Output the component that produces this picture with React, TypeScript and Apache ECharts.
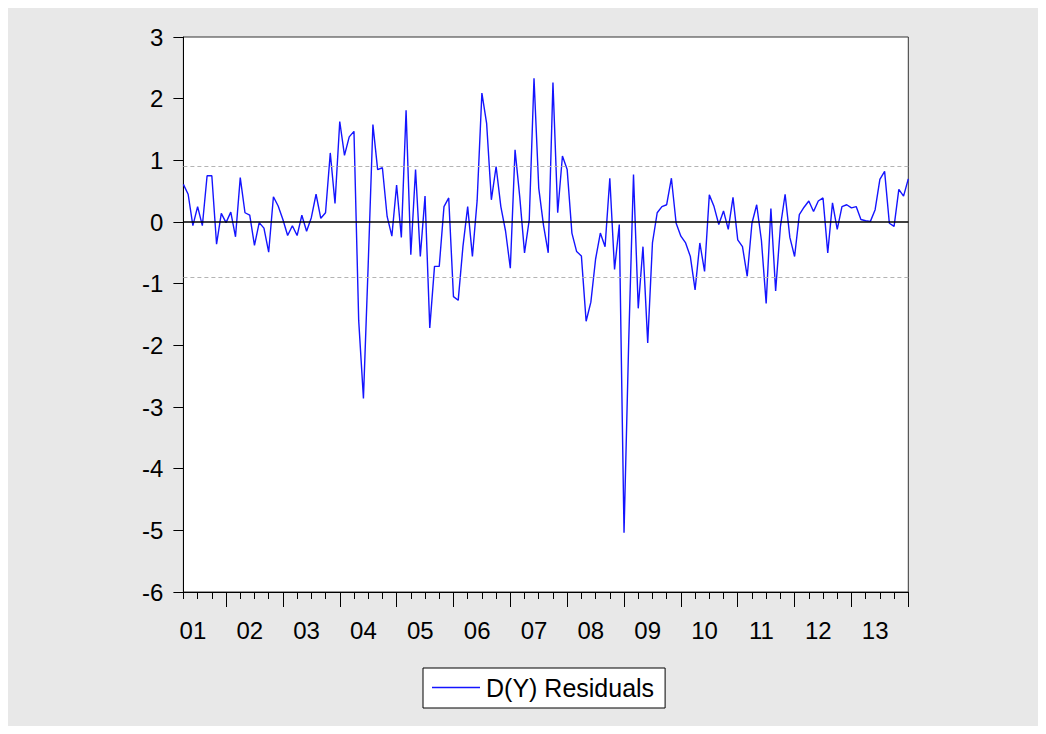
import React, { useEffect, useRef } from "react";
import * as echarts from "echarts";

// Monthly observations, first observation 2001M04
const START_YEAR = 2001;
const START_MONTH = 4;

// D(Y) residuals (2001M04 ... 2014M01)
const residuals2001 = [0.61, 0.45, -0.06, 0.25, -0.06, 0.75, 0.75, -0.36, 0.14];
const residuals2002 = [-0.01, 0.16, -0.24, 0.72, 0.15, 0.11, -0.38, -0.01, -0.1, -0.49, 0.41, 0.26];
const residuals2003 = [0.04, -0.22, -0.06, -0.22, 0.11, -0.15, 0.07, 0.45, 0.06, 0.15, 1.12, 0.3];
const residuals2004 = [1.63, 1.08, 1.38, 1.47, -1.6, -2.86, -0.7, 1.58, 0.85, 0.88, 0.09, -0.23];
const residuals2005 = [0.6, -0.25, 1.81, -0.53, 0.85, -0.56, 0.42, -1.72, -0.72, -0.72, 0.25, 0.39];
const residuals2006 = [-1.21, -1.27, -0.4, 0.25, -0.56, 0.35, 2.09, 1.6, 0.36, 0.9, 0.25, -0.15];
const residuals2007 = [-0.75, 1.17, 0.4, -0.5, 0.04, 2.33, 0.55, -0.05, -0.5, 2.26, 0.15, 1.07];
const residuals2008 = [0.85, -0.18, -0.48, -0.55, -1.61, -1.3, -0.6, -0.18, -0.4, 0.71, -0.77, -0.04];
const residuals2009 = [-5.04, -1.9, 0.77, -1.4, -0.4, -1.96, -0.34, 0.15, 0.25, 0.28, 0.71, -0.02];
const residuals2010 = [-0.23, -0.34, -0.56, -1.1, -0.34, -0.8, 0.44, 0.25, -0.04, 0.18, -0.12, 0.4];
const residuals2011 = [-0.29, -0.4, -0.88, -0.02, 0.28, -0.3, -1.32, 0.22, -1.12, -0.08, 0.45, -0.25];
const residuals2012 = [-0.56, 0.12, 0.24, 0.34, 0.17, 0.34, 0.39, -0.5, 0.31, -0.12, 0.25, 0.28];
const residuals2013 = [0.23, 0.25, 0.04, 0.02, 0.01, 0.2, 0.69, 0.82, -0.02, -0.07, 0.53, 0.42];
const residuals2014 = [0.7];

const residuals = [
  ...residuals2001, ...residuals2002, ...residuals2003, ...residuals2004,
  ...residuals2005, ...residuals2006, ...residuals2007, ...residuals2008,
  ...residuals2009, ...residuals2010, ...residuals2011, ...residuals2012,
  ...residuals2013, ...residuals2014,
];

// ±1 standard error band and y-axis range
const seBand = 0.897;
const yMin = -6;
const yMax = 3;
const yStep = 1;

const seriesName = "D(Y) Residuals";
const FONT = 'Arial, "Liberation Sans", sans-serif';
const LINE_COLOR = "#1414ff";

function monthLabels(n: number): string[] {
  const out: string[] = [];
  let y = START_YEAR;
  let m = START_MONTH;
  for (let i = 0; i < n; i++) {
    out.push(`${y}M${m < 10 ? "0" + m : m}`);
    m++;
    if (m > 12) {
      m = 1;
      y++;
    }
  }
  return out;
}

const monthOf = (v: string) => parseInt(v.slice(5), 10);

export default function App() {
  const ref = useRef<HTMLDivElement>(null);

  useEffect(() => {
    if (!ref.current) return;
    const chart = echarts.init(ref.current, null, { renderer: "svg" });
    const cats = monthLabels(residuals.length);

    chart.setOption({
      animation: false,
      backgroundColor: "#e8e8e8",
      grid: {
        left: 175.4,
        right: 129.7,
        top: 29,
        bottom: 134,
        show: true,
        backgroundColor: "#ffffff",
        borderColor: "#333333",
        borderWidth: 1,
      },
      legend: {
        show: true,
        left: 415,
        top: 660,
        padding: [7, 11, 8, 9],
        itemWidth: 48,
        itemHeight: 1.5,
        itemGap: 5,
        icon: "rect",
        borderColor: "#000000",
        borderWidth: 1,
        borderRadius: 0,
        backgroundColor: "#ffffff",
        textStyle: { fontSize: 25, color: "#000000", fontFamily: FONT, padding: [0, 0, 0, 1] },
        data: [{ name: seriesName, icon: "rect", itemStyle: { color: LINE_COLOR } }],
      },
      xAxis: [
        {
          type: "category",
          data: cats,
          boundaryGap: false,
          position: "bottom",
          axisLine: { show: true, onZero: false, lineStyle: { color: "#000000", width: 1 } },
          axisTick: {
            show: true,
            length: 15,
            interval: (_i: number, v: string) => monthOf(v) === 1,
            lineStyle: { color: "#000000" },
          },
          axisLabel: {
            show: true,
            interval: (_i: number, v: string) => monthOf(v) === 6,
            formatter: (v: string) => v.slice(2, 4),
            fontSize: 24,
            color: "#000000",
            fontFamily: FONT,
            margin: 26,
          },
          splitLine: { show: false },
        },
        {
          type: "category",
          data: cats,
          boundaryGap: false,
          position: "bottom",
          axisLine: { show: false, onZero: false },
          axisTick: {
            show: true,
            length: 7,
            interval: (_i: number, v: string) => [1, 4, 7, 10].includes(monthOf(v)),
            lineStyle: { color: "#000000" },
          },
          axisLabel: { show: false },
          splitLine: { show: false },
        },
      ],
      yAxis: {
        type: "value",
        min: yMin,
        max: yMax,
        interval: yStep,
        axisLine: { show: true, lineStyle: { color: "#000000", width: 1 } },
        axisTick: { show: true, length: 10, lineStyle: { color: "#000000" } },
        axisLabel: { fontSize: 24, color: "#000000", fontFamily: FONT, margin: 20 },
        splitLine: { show: false },
      },
      series: [
        {
          type: "line",
          name: "bands",
          data: [],
          z: 1,
          silent: true,
          markLine: {
            silent: true,
            symbol: "none",
            label: { show: false },
            data: [
              { yAxis: seBand, lineStyle: { color: "#b4b4b4", type: [4, 3], width: 1 } },
              { yAxis: -seBand, lineStyle: { color: "#b4b4b4", type: [4, 3], width: 1 } },
              { yAxis: 0, lineStyle: { color: "#000000", type: "solid", width: 1.5 } },
            ],
          },
        },
        {
          type: "line",
          name: seriesName,
          data: residuals,
          z: 3,
          symbol: "none",
          showSymbol: false,
          lineStyle: { color: LINE_COLOR, width: 1.4 },
          itemStyle: { color: LINE_COLOR },
        },
      ],
    });

    return () => chart.dispose();
  }, []);

  return <div ref={ref} style={{ width: 1030, height: 718 }} />;
}
